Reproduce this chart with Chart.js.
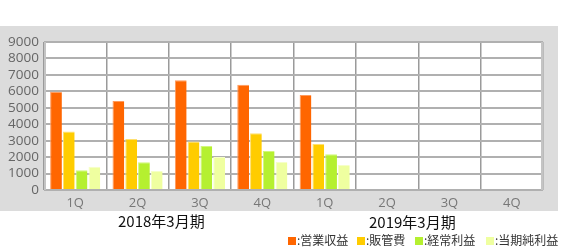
<!DOCTYPE html>
<html><head><meta charset="utf-8">
<script src="https://cdn.jsdelivr.net/npm/chart.js@4.4.0/dist/chart.umd.min.js"></script>
<style>
html,body{margin:0;padding:0;background:#fff;width:562px;height:250px;overflow:hidden;}
#wrap{position:absolute;left:0;top:26px;width:558px;height:185px;background:#dcdcdc;}
canvas{display:block;}
.t{position:absolute;font-family:"Noto Sans CJK JP","Noto Sans",sans-serif;white-space:nowrap;}
.yr{font-size:15px;color:#111;top:211px;line-height:20px;}
.lg{font-size:12px;color:#333;top:232px;line-height:16px;}
.sq{display:inline-block;width:8px;height:8px;margin-right:1px;vertical-align:-0px;}
</style></head>
<body>
<div id="wrap"><canvas id="c" width="558" height="185"></canvas></div>
<div class="t yr" style="left:118px">2018年3月期</div>
<div class="t yr" style="left:369px;top:212px">2019年3月期</div>
<div class="t lg" style="left:288px"><span class="sq" style="background:#ff6600"></span>:営業収益</div>
<div class="t lg" style="left:357px"><span class="sq" style="background:#ffcc00"></span>:販管費</div>
<div class="t lg" style="left:415px"><span class="sq" style="background:#b5f030"></span>:経常利益</div>
<div class="t lg" style="left:486px"><span class="sq" style="background:#efffa0"></span>:当期純利益</div>
<script>
const categories = ["1Q","2Q","3Q","4Q","1Q","2Q","3Q","4Q"];
const seriesNames = ["営業収益","販管費","経常利益","当期純利益"];
const operatingRevenue = [5980,5410,6670,6400,5780,null,null,null];
const sgaExpenses = [3550,3100,2950,3450,2800,null,null,null];
const ordinaryProfit = [1200,1690,2680,2370,2170,null,null,null];
const netProfit = [1420,1160,2010,1700,1520,null,null,null];
const yTicks = [0,1000,2000,3000,4000,5000,6000,7000,8000,9000];

const colors = ["#ff6600","#ffcc00","#b5f030","#efffa0"];
const borders = ["#ff9a5c","#ffe070","#d2f77a","#f6ffc8"];
const values = [operatingRevenue, sgaExpenses, ordinaryProfit, netProfit];

const plotBg = {
  id:'plotBg',
  beforeDraw(chart){
    const a = chart.chartArea, ctx = chart.ctx;
    ctx.save();
    ctx.fillStyle = '#ffffff';
    ctx.fillRect(a.left, a.top, a.right-a.left, a.bottom-a.top);
    ctx.restore();
  },
  afterDatasetsDraw(chart){
    const a = chart.chartArea, ctx = chart.ctx;
    ctx.save();
    ctx.strokeStyle = '#c4c4c4';
    ctx.lineWidth = 2;
    ctx.beginPath();
    ctx.moveTo(a.left+1, a.top); ctx.lineTo(a.left+1, a.bottom);
    ctx.moveTo(a.right-1, a.top); ctx.lineTo(a.right-1, a.bottom);
    ctx.stroke();
    ctx.restore();
  }
};

new Chart(document.getElementById('c'), {
  type:'bar',
  data:{
    labels:categories,
    datasets: seriesNames.map((n,i)=>({
      label:n, data:values[i], backgroundColor:colors[i],
      borderColor:borders[i], borderWidth:{top:1,left:1,right:0,bottom:0},
      categoryPercentage:0.82, barPercentage:0.92
    }))
  },
  options:{
    responsive:false, animation:false,
    layout:{padding:{top:16,right:15,left:0,bottom:0}},
    plugins:{legend:{display:false}, tooltip:{enabled:false}},
    scales:{
      x:{
        grid:{offset:true, color:'#9a9a9a', lineWidth:1.5, drawTicks:false},
        border:{display:false},
        ticks:{color:'#777', font:{family:'"Open Sans"', size:13}, padding:5},
        afterFit(s){ s.height = 21; }
      },
      y:{
        min:yTicks[0], max:yTicks[yTicks.length-1],
        grid:{color:'#b0b0b0', lineWidth:2, drawTicks:false},
        border:{display:false},
        ticks:{stepSize:yTicks[1]-yTicks[0], autoSkip:false, color:'#666',
               font:{family:'"Open Sans"', size:13.5}, padding:5,
               callback:(v)=>String(v)},
        afterFit(s){ s.width = 44; }
      }
    }
  },
  plugins:[plotBg]
});
</script>
</body></html>
